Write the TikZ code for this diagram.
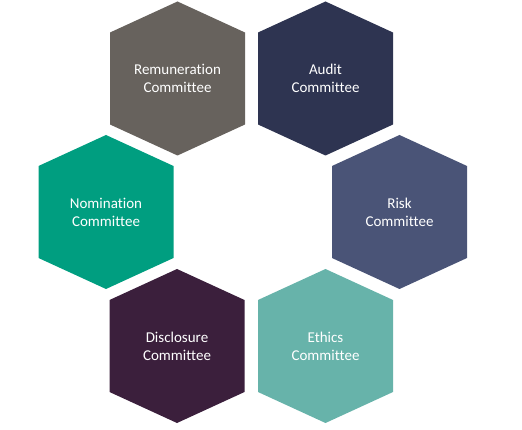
\documentclass[tikz,border=0pt]{standalone}
\usepackage{fontspec}
\setmainfont{Carlito}[Ligatures={NoCommon}]

\definecolor{remgray}{HTML}{67625D}
\definecolor{auditnavy}{HTML}{2E3451}
\definecolor{nomgreen}{HTML}{009E80}
\definecolor{riskblue}{HTML}{4A5477}
\definecolor{discplum}{HTML}{3B1F3C}
\definecolor{ethteal}{HTML}{67B3AA}

\tikzset{
  hexcell/.style={minimum width=135pt, minimum height=154pt, inner sep=0pt,
    text=white, align=center, font=\fontsize{15}{18}\selectfont,
    path picture={\fill[#1] (path picture bounding box.center)
      +(0pt,77pt) -- +(67.5pt,46pt) -- +(67.5pt,-46pt) -- +(0pt,-77pt)
      -- +(-67.5pt,-46pt) -- +(-67.5pt,46pt) -- cycle;}}
}

\begin{document}
\begin{tikzpicture}[x=1pt,y=1pt]
        \useasboundingbox (0,0) rectangle (522,-430);

        \node[hexcell=remgray]   (remun) at (177.5,-78.5) {Remuneration\\Committee};
        \node[hexcell=auditnavy] (audit) at (325.5,-78.5) {Audit\\Committee};
        \node[hexcell=nomgreen]  (nomin) at (106,-212)    {Nomination\\Committee};
        \node[hexcell=riskblue]  (risk)  at (399.5,-212)  {Risk\\Committee};
        \node[hexcell=discplum]  (discl) at (177,-346)    {Disclosure\\Committee};
        \node[hexcell=ethteal]   (ethic) at (325.5,-346)  {Ethics\\Committee};
    \end{tikzpicture}
\end{document}
